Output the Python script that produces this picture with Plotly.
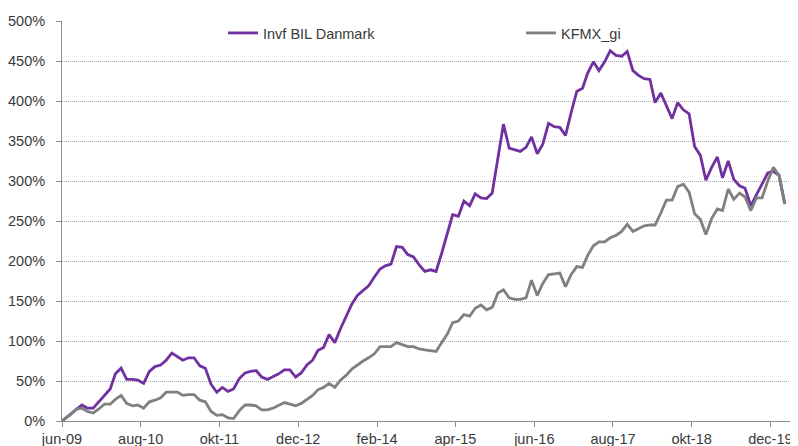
import pandas as pd
import plotly.graph_objects as go

# ---- data (monthly, jun-09 .. feb-20), cumulative return in %
dates = [pd.Timestamp("2009-06-01")] + list(
    pd.date_range("2009-07-01", periods=128, freq="MS") + pd.Timedelta(days=16)
)

invf_bil_danmark = [
    0, 9, 15, 20, 16, 16, 24, 32, 40, 59, 66, 52, 52, 51, 47, 62, 68, 70, 76, 85,
    80, 76, 79, 79, 69, 66, 46, 36, 42, 37, 40, 53, 60, 62, 63, 55, 52, 55, 59, 64,
    64, 55, 60, 70, 76, 88, 92, 108, 98, 115, 130, 146, 157, 163, 169, 180, 190, 194, 196, 218,
    217, 208, 205, 195, 187, 189, 187, 210, 234, 258, 256, 275, 269, 284, 279, 278, 285, 330, 371, 341,
    339, 337, 342, 355, 334, 346, 372, 368, 367, 357, 385, 412, 416, 435, 449, 438, 449, 463, 457, 456,
    462, 438, 432, 428, 427, 398, 410, 394, 378, 398, 389, 384, 343, 332, 301, 317, 330, 304, 325, 302,
    294, 291, 269, 283, 296, 310, 312, 307, 272,
]

kfmx_gi = [
    0, 8, 15, 16, 12, 10, 15, 21, 21, 27, 32, 22, 19, 20, 16, 24, 26, 29, 36, 36,
    36, 32, 33, 33, 26, 24, 12, 7, 8, 4, 3, 13, 20, 20, 19, 14, 14, 16, 20, 23,
    21, 19, 22, 27, 32, 39, 42, 47, 42, 51, 57, 65, 70, 75, 79, 84, 93, 93, 93, 98,
    95, 93, 93, 90, 89, 88, 87, 98, 109, 123, 125, 133, 131, 141, 145, 139, 142, 160, 164, 154,
    152, 152, 154, 176, 157, 172, 183, 184, 185, 168, 183, 193, 192, 207, 219, 224, 224, 229, 232, 237,
    246, 237, 240, 244, 245, 245, 260, 276, 276, 293, 296, 286, 259, 252, 233, 253, 265, 263, 290, 277,
    285, 280, 263, 279, 279, 300, 317, 307, 271,
]

series_names = ["Invf BIL Danmark", "KFMX_gi"]

x_tick_dates = pd.date_range("2009-06-01", periods=10, freq="14MS")
x_tick_labels = ["jun-09", "aug-10", "okt-11", "dec-12", "feb-14",
                 "apr-15", "jun-16", "aug-17", "okt-18", "dec-19"]
y_tick_vals = [0, 50, 100, 150, 200, 250, 300, 350, 400, 450, 500]
y_tick_labels = [f"{v}%" for v in y_tick_vals]

# ---- figure (page body has an 8px margin, so the figure is sized to fit)
FONT = "Liberation Sans, Arial, sans-serif"
TXT = "#3a3a3a"
AX = "#8c8c8c"
W, H = 790, 438
ML, MR, MT, MB = 54, 4, 13, 25
PW = W - ML - MR

fig = go.Figure()
fig.add_trace(go.Scatter(x=dates, y=invf_bil_danmark, name=series_names[0], mode="lines",
                         line=dict(color="#7030A0", width=2.8), legend="legend"))
fig.add_trace(go.Scatter(x=dates, y=kfmx_gi, name=series_names[1], mode="lines",
                         line=dict(color="#808080", width=2.8), legend="legend2"))

leg_common = dict(orientation="h", xanchor="left", y=0.97, yanchor="middle",
                  bgcolor="rgba(0,0,0,0)", font=dict(family=FONT, size=14.5, color=TXT))

fig.update_layout(
    width=W, height=H,
    margin=dict(l=ML, r=MR, t=MT, b=MB, autoexpand=False),
    paper_bgcolor="white", plot_bgcolor="white",
    font=dict(family=FONT, size=14.5, color=TXT),
    showlegend=True,
    legend=dict(x=(215 - ML) / PW, **leg_common),
    legend2=dict(x=(513 - ML) / PW, **leg_common),
)

fig.update_xaxes(
    type="date", automargin=False,
    range=[pd.Timestamp("2009-06-01"), pd.Timestamp("2020-04-07")],
    tickmode="array", tickvals=list(x_tick_dates), ticktext=x_tick_labels,
    showgrid=False, zeroline=False,
    showline=True, linecolor=AX, linewidth=1,
    ticks="outside", ticklen=5, tickcolor=AX, tickwidth=1,
    tickfont=dict(family=FONT, size=14.5, color=TXT),
)
fig.update_yaxes(
    range=[0, 500], automargin=False,
    tickmode="array", tickvals=y_tick_vals, ticktext=y_tick_labels,
    showgrid=True, gridcolor="#a8a8a8", griddash="1px,1px", gridwidth=1,
    zeroline=False,
    showline=True, linecolor=AX, linewidth=1,
    ticks="outside", ticklen=5, tickcolor=AX, tickwidth=1,
    ticklabelstandoff=8,
    tickfont=dict(family=FONT, size=14.5, color=TXT),
)

fig.write_html("out.html")
